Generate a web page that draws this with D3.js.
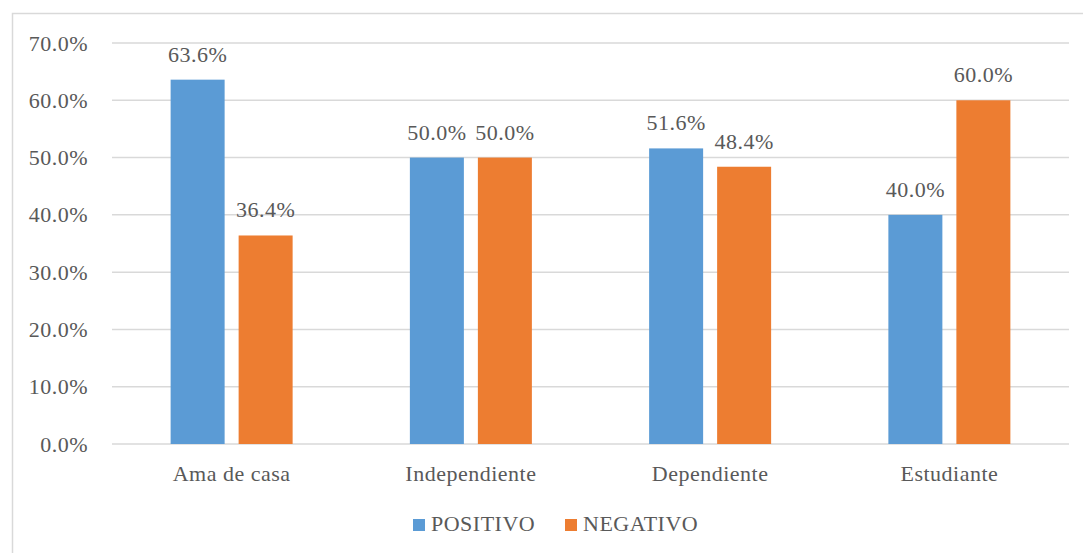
<!DOCTYPE html>
<meta charset="utf-8">
<style>
body { margin: 0; background: #fff; }
text { font-family: "Liberation Serif", "Times New Roman", serif; fill: #595959; letter-spacing: 0.5px; }
</style>
<body>
<script src="https://d3js.org/d3.v7.min.js"></script>
<script>

// chart values
var categories = ["Ama de casa", "Independiente", "Dependiente", "Estudiante"];
var seriesNames = ["POSITIVO", "NEGATIVO"];
var positivo = [63.6, 50.0, 51.6, 40.0];
var negativo = [36.4, 50.0, 48.4, 60.0];
var yTicks = [0, 10, 20, 30, 40, 50, 60, 70];
var colors = ["#5b9bd5", "#ed7d31"];

var W = 1083, H = 553;
var margin = {top: 43, right: 14, bottom: 109, left: 112};
var width = 1069 - margin.left, height = 444 - margin.top;
var fs = "22px";

var svg = d3.select("body").append("svg")
    .attr("width", W)
    .attr("height", H);

// chart frame
svg.append("rect")
    .attr("x", 12.5).attr("y", 13.5)
    .attr("width", 1090).attr("height", 560)
    .attr("fill", "none")
    .attr("stroke", "#d9d9d9")
    .attr("stroke-width", 1.5);

var g = svg.append("g")
    .attr("transform", "translate(" + margin.left + "," + margin.top + ")");

var x = d3.scaleBand().domain(categories).range([0, width]);
var y = d3.scaleLinear().domain([0, 70]).range([height, 0]);

// gridlines
g.selectAll(".grid")
    .data(yTicks)
  .enter().append("line")
    .attr("x1", 0).attr("x2", width)
    .attr("y1", function(d) { return y(d); })
    .attr("y2", function(d) { return y(d); })
    .attr("stroke", "#d9d9d9")
    .attr("stroke-width", 1.5);

// y axis labels
var yAxis = g.append("g")
    .call(d3.axisLeft(y).tickValues(yTicks).tickSize(0).tickPadding(24)
      .tickFormat(function(d) { return d.toFixed(1) + "%"; }));
yAxis.select(".domain").remove();
yAxis.selectAll("text")
    .style("font-size", fs)
    .attr("fill", "#595959");

// x axis labels
var xAxis = g.append("g")
    .attr("transform", "translate(0," + height + ")")
    .call(d3.axisBottom(x).tickSize(0).tickPadding(21));
xAxis.select(".domain").remove();
xAxis.selectAll("text")
    .style("font-size", fs)
    .attr("fill", "#595959");

// bars
var barW = 54, gap = 14;
var series = [positivo, negativo];
series.forEach(function(vals, si) {
  var offset = si === 0 ? -(gap / 2 + barW) : gap / 2;
  var cx = function(i) { return x(categories[i]) + x.bandwidth() / 2 + offset; };

  g.selectAll(".bar" + si)
      .data(vals)
    .enter().append("rect")
      .attr("x", function(d, i) { return cx(i); })
      .attr("y", function(d) { return y(d); })
      .attr("width", barW)
      .attr("height", function(d) { return height - y(d); })
      .attr("fill", colors[si]);

  g.selectAll(".lab" + si)
      .data(vals)
    .enter().append("text")
      .attr("x", function(d, i) { return cx(i) + barW / 2; })
      .attr("y", function(d) { return y(d) - 18; })
      .attr("text-anchor", "middle")
      .style("font-size", fs)
      .text(function(d) { return d.toFixed(1) + "%"; });
});

// legend
var legX = [413, 565];
var leg = svg.selectAll(".leg")
    .data(seriesNames)
  .enter().append("g")
    .attr("transform", function(d, i) { return "translate(" + legX[i] + ",519)"; });
leg.append("rect")
    .attr("width", 12).attr("height", 12)
    .attr("fill", function(d, i) { return colors[i]; });
leg.append("text")
    .attr("x", 18).attr("y", 12)
    .style("font-size", fs)
    .text(function(d) { return d; });

</script>
</body>
